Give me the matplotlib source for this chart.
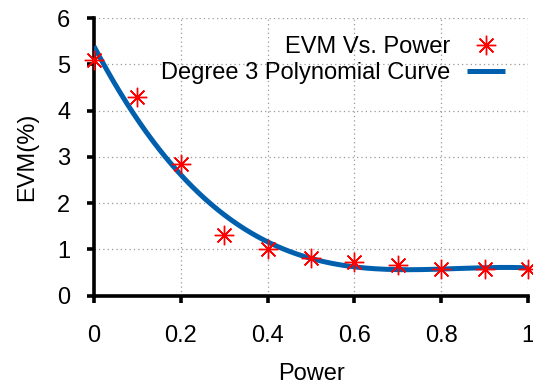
import numpy as np
import matplotlib
matplotlib.use("Agg")
import matplotlib.pyplot as plt

# measured points
power = [0.0, 0.1, 0.2, 0.3, 0.4, 0.5, 0.6, 0.7, 0.8, 0.9, 1.0]
evm = [5.09, 4.29, 2.84, 1.31, 1.0, 0.82, 0.72, 0.66, 0.58, 0.58, 0.57]

x_ticks = [0, 0.2, 0.4, 0.6, 0.8, 1]
x_tick_labels = ["0", "0.2", "0.4", "0.6", "0.8", "1"]
y_ticks = [0, 1, 2, 3, 4, 5, 6]

plt.rcParams["font.family"] = ["Liberation Sans", "DejaVu Sans"]

# degree 3 fit through the points
coef = np.polyfit(power, evm, 3)
xs = np.linspace(0, 1, 200)
fit = np.polyval(coef, xs)

fig = plt.figure(figsize=(5.33, 3.9), dpi=100)
ax = fig.add_axes([0.1764, 0.2423, 0.8142, 0.7115])

ax.plot(xs, fit, color="#0060ad", linewidth=3.6, label="Degree 3 Polynomial Curve",
        solid_capstyle="butt", zorder=3)
ax.plot(power, evm, linestyle="none", marker=(8, 2, 0), markersize=14,
        markeredgecolor="red", markeredgewidth=1.0, color="red",
        label="EVM Vs. Power", zorder=4, clip_on=False)

ax.set_xlim(0, 1)
ax.set_ylim(0, 6)
ax.set_xticks(x_ticks)
ax.set_xticklabels(x_tick_labels)
ax.set_yticks(y_ticks)

for s in ["top", "right"]:
    ax.spines[s].set_visible(False)
for s in ["left", "bottom"]:
    ax.spines[s].set_linewidth(2.6)

ax.tick_params(axis="both", direction="out", length=5, width=2.6, labelsize=17)
ax.tick_params(axis="x", pad=16)
ax.tick_params(axis="y", pad=12)
ax.grid(True, linestyle=(0, (1, 2.5)), color="#999999", linewidth=0.9)
ax.set_axisbelow(True)

ax.set_xlabel("Power", fontsize=17, labelpad=12)
ax.set_ylabel("EVM(%)", fontsize=17, labelpad=14)

h, l = ax.get_legend_handles_labels()
ax.legend(h[::-1], l[::-1], loc="upper right", frameon=False, fontsize=17,
          markerfirst=False, handlelength=1.6, handletextpad=0.7,
          labelspacing=0.15, bbox_to_anchor=(0.995, 1.01))

fig.savefig("out.png", dpi=100)
